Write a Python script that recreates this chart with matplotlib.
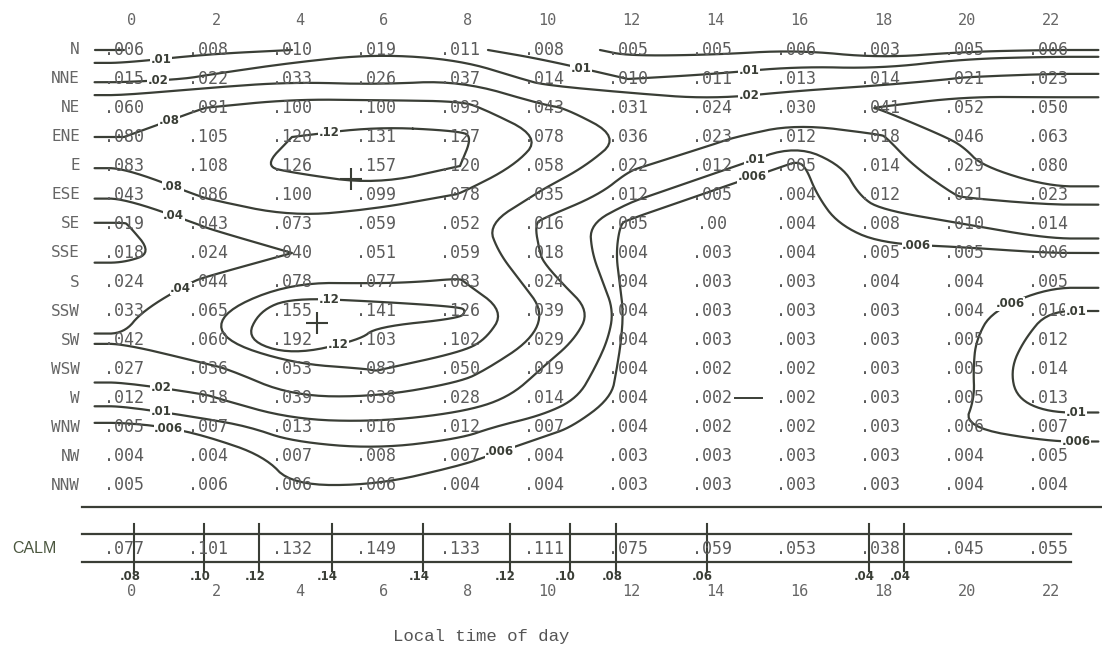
import matplotlib
matplotlib.use("Agg")
import matplotlib.pyplot as plt
import numpy as np

# hours of the day (columns) and wind directions (rows)
hours = [0, 2, 4, 6, 8, 10, 12, 14, 16, 18, 20, 22]
directions = ["N", "NNE", "NE", "ENE", "E", "ESE", "SE", "SSE",
              "S", "SSW", "SW", "WSW", "W", "WNW", "NW", "NNW"]

# frequency of each direction at each hour
freq_N   = [.006, .008, .010, .019, .011, .008, .005, .005, .006, .003, .005, .006]
freq_NNE = [.015, .022, .033, .026, .037, .014, .010, .011, .013, .014, .021, .023]
freq_NE  = [.060, .081, .100, .100, .093, .043, .031, .024, .030, .041, .052, .050]
freq_ENE = [.080, .105, .120, .131, .127, .078, .036, .023, .012, .018, .046, .063]
freq_E   = [.083, .108, .126, .157, .120, .058, .022, .012, .005, .014, .029, .080]
freq_ESE = [.043, .086, .100, .099, .078, .035, .012, .005, .004, .012, .021, .023]
freq_SE  = [.019, .043, .073, .059, .052, .016, .005, .00, .004, .008, .010, .014]
freq_SSE = [.018, .024, .040, .051, .059, .018, .004, .003, .004, .005, .005, .006]
freq_S   = [.024, .044, .078, .077, .083, .024, .004, .003, .003, .004, .004, .005]
freq_SSW = [.033, .065, .155, .141, .126, .039, .004, .003, .003, .003, .004, .010]
freq_SW  = [.042, .060, .192, .103, .102, .029, .004, .003, .003, .003, .005, .012]
freq_WSW = [.027, .036, .053, .083, .050, .019, .004, .002, .002, .003, .005, .014]
freq_W   = [.012, .018, .039, .038, .028, .014, .004, .002, .002, .003, .005, .013]
freq_WNW = [.005, .007, .013, .016, .012, .007, .004, .002, .002, .003, .006, .007]
freq_NW  = [.004, .004, .007, .008, .007, .004, .003, .003, .003, .003, .004, .005]
freq_NNW = [.005, .006, .006, .006, .004, .004, .003, .003, .003, .003, .004, .004]
calm     = [.077, .101, .132, .149, .133, .111, .075, .059, .053, .038, .045, .055]

contour_levels = [0.006, 0.01, 0.02, 0.04, 0.08, 0.12]
calm_levels = [0.04, 0.06, 0.08, 0.10, 0.12, 0.14]

# rough spots (hour, row) where the contour labels are written
label_spots = [(1, 0.5), (0.8, 1.0), (1.3, 1.55), (1, 2.6), (1, 5), (1, 6.3), (1, 7.5),
               (1, 11.2), (1, 12.2), (1, 13.3), (1, 14.2), (5, 3.3), (5, 8.6), (5, 9.5),
               (11, 0.3), (15, 1), (15, 2), (15, 3.5), (15, 4.4), (15, 5.6),
               (19, 6.6), (19, 7.6), (21, 8.5), (23, 10), (23, 12.3), (23, 13.5),
               (9, 14.3)]

rows = [freq_N, freq_NNE, freq_NE, freq_ENE, freq_E, freq_ESE, freq_SE, freq_SSE,
        freq_S, freq_SSW, freq_SW, freq_WSW, freq_W, freq_WNW, freq_NW, freq_NNW]
Z = np.array(rows)
h = np.array(hours, dtype=float)
y = np.arange(len(directions))

ink = "#3a3e36"
txt = "#5b5b5b"
mono = "DejaVu Sans Mono"


def fmt_level(v):
    return ("%.3f" % v).rstrip("0")[1:]


def chaikin(pts, closed, n=3):
    for _ in range(n):
        if closed:
            p0 = pts
            p1 = np.roll(pts, -1, axis=0)
        else:
            p0 = pts[:-1]
            p1 = pts[1:]
        mid = np.empty((2 * len(p0), 2))
        mid[0::2] = 0.75 * p0 + 0.25 * p1
        mid[1::2] = 0.25 * p0 + 0.75 * p1
        pts = mid if closed else np.vstack([pts[:1], mid, pts[-1:]])
    return pts


fig = plt.figure(figsize=(11.02, 6.47), dpi=100)
ax = fig.add_axes([0, 0, 1, 1])
ax.set_xlim(-2.952, 23.286)
ax.set_ylim(20.586, -1.724)
ax.axis("off")

# table values
for r, name in enumerate(directions):
    ax.text(-1.05, r, name, ha="right", va="center", fontsize=11.5,
            family=mono, color="#666666")
    for c, hr in enumerate(hours):
        v = Z[r, c]
        s = ("%.3f" % v)[1:] if v > 0 else ".00"
        ax.text(hr, r, s, ha="center", va="center", fontsize=12,
                family=mono, color=txt)

# hour labels top and bottom
for hr in hours:
    ax.text(hr + 0.3, -1.03, str(hr), ha="right", va="center", fontsize=11,
            family=mono, color="#666666")
    ax.text(hr + 0.3, 18.66, str(hr), ha="right", va="center", fontsize=11,
            family=mono, color="#666666")

# contours (edges repeated so lines run out to the table border), smoothed
hp = np.concatenate([[-0.7], h, [23.2]])
Zp = np.pad(Z, ((0, 0), (1, 1)), mode="edge")
cs = ax.contour(hp, y, Zp, levels=contour_levels)
lines = []
for lev, path in zip(cs.levels, cs.get_paths()):
    if len(path.vertices) == 0:
        continue
    verts = path.vertices
    codes = path.codes
    starts = list(np.where(codes == 1)[0]) + [len(verts)]
    for a, b in zip(starts[:-1], starts[1:]):
        seg = verts[a:b]
        closed = codes[b - 1] == 79
        if closed:
            seg = seg[:-1]
        if len(seg) < 2:
            continue
        sm = chaikin(seg, closed)
        if closed:
            sm = np.vstack([sm, sm[:1]])
        lines.append((lev, sm))
cs.remove()
for lev, sm in lines:
    ax.plot(sm[:, 0], sm[:, 1], color=ink, lw=1.6, solid_capstyle="round")

# contour labels at nearest free point of the nearest contour
placed = []
for sx, sy in label_spots:
    best = None
    for lev, sm in lines:
        px, py = sm[:, 0], sm[:, 1]
        even = np.round(px / 2) * 2
        free = ((np.abs(px - even) > 0.62) | (np.abs(py - np.round(py)) > 0.32)) \
            & (px > -0.6) & (px < 22.75)
        if not free.any():
            continue
        d = np.hypot((px - sx) * 42, (py - sy) * 29)
        d[~free] = np.inf
        i = np.argmin(d)
        if best is None or d[i] < best[0]:
            best = (d[i], lev, sm[i])
    if best is None or best[0] > 45:
        continue
    bx, by = best[2]
    if any(abs(bx - qx) * 42 < 28 and abs(by - qy) * 29 < 10 for qx, qy in placed):
        continue
    placed.append((bx, by))
    ax.text(bx, by, fmt_level(best[1]), ha="center", va="center",
            fontsize=8.5, fontweight="bold", color=ink,
            bbox=dict(fc="white", ec="none", pad=0.3))

# maxima and minimum marks
top = Z[:8]
r1, c1 = np.unravel_index(np.argmax(top), top.shape)
bot = Z[8:]
r2, c2 = np.unravel_index(np.argmax(bot), bot.shape)
ax.plot([h[c1] - 0.6, h[c2] + 0.6], [r1 + 0.45, r2 + 8 - 0.6], "+", ms=16, mew=1.5, color=ink)
wrow = directions.index("W")
mins = np.where(Z[wrow] == Z[wrow].min())[0]
ax.plot([h[mins].mean() - 0.45, h[mins].mean() + 0.2], [wrow, wrow], color=ink, lw=1.4)

# table rules
ax.plot([-1.0, 23.3], [15.76, 15.76], color=ink, lw=1.6)
ax.plot([-1.0, 22.55], [16.69, 16.69], color=ink, lw=1.6)
ax.plot([-1.0, 22.55], [17.66, 17.66], color=ink, lw=1.6)

# calm row
ax.text(-1.6, 17.2, "CALM", ha="right", va="center", fontsize=11.5,
        family="Liberation Sans", color="#4b573f")
for c, hr in enumerate(hours):
    ax.text(hr, 17.2, ("%.3f" % calm[c])[1:], ha="center", va="center",
            fontsize=12, family=mono, color=txt)

# calm crossings of contour levels
for i in range(len(calm) - 1):
    a, b = calm[i], calm[i + 1]
    for lv in calm_levels:
        if min(a, b) < lv < max(a, b):
            xc = h[i] + (lv - a) / (b - a) * (h[i + 1] - h[i])
            ax.plot([xc, xc], [16.35, 17.95], color=ink, lw=1.5)
            ax.text(xc - 0.1, 18.15, ("%.2f" % lv)[1:], ha="center", va="center",
                    fontsize=8.5, fontweight="bold", color=ink)

ax.text(8.5, 20.24, "Local time of day", ha="center", va="center",
        fontsize=12.5, family="Liberation Mono", color="#555555")

fig.savefig("out.png", dpi=100)
